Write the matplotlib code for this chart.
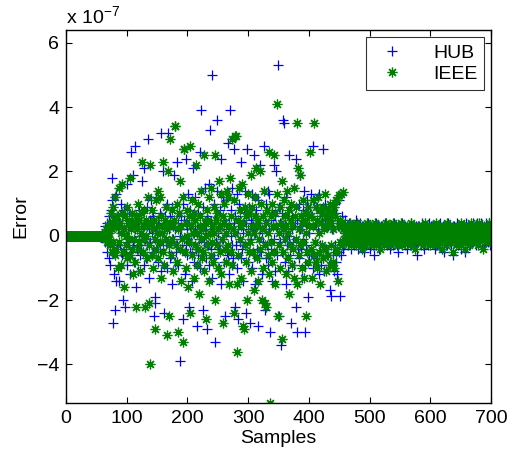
import numpy as np
import matplotlib
matplotlib.use("Agg")
import matplotlib.pyplot as plt

# ---------------- data (units of 1e-7) ----------------
scale = 1e-7

# samples 1..62 : both errors are zero
lead_hub = [0, 0, 0, 0, 0, 0, 0, 0, 0, 0, 0, 0, 0, 0, 0, 0, 0, 0, 0, 0,
            0, 0, 0, 0, 0, 0, 0, 0, 0, 0, 0, 0, 0, 0, 0, 0, 0, 0, 0, 0,
            0, 0, 0, 0, 0, 0, 0, 0, 0, 0, 0, 0, 0, 0, 0, 0, 0, 0, 0, 0,
            0, 0]
lead_ieee = [0, 0, 0, 0, 0, 0, 0, 0, 0, 0, 0, 0, 0, 0, 0, 0, 0, 0, 0, 0,
             0, 0, 0, 0, 0, 0, 0, 0, 0, 0, 0, 0, 0, 0, 0, 0, 0, 0, 0, 0,
             0, 0, 0, 0, 0, 0, 0, 0, 0, 0, 0, 0, 0, 0, 0, 0, 0, 0, 0, 0,
             0, 0]

# samples 63..462 : large scatter region
mid_hub = [
    0.1, -0.2, 0.3, -0.1, 0.4, -0.5, 0.2, 0.6, -0.7, 0.3,
    -0.9, 0.8, 1.1, 1.8, -2.7, 0.5, -1.2, 0.4, -2.3, -1.4,
    1.3, -0.3, 0.2, 0.6, -1.4, 0.4, -0.3, 1.0, -0.5, 0.2,
    -0.6, -2.0, 0.8, 0.1, -2.2, 0.5, -0.4, 1.6, -0.9, 0.3,
    -0.2, 0.7, -1.2, 0.3, 2.6, -0.5, 0.4, -0.3, 1.9, -0.8,
    0.2, 2.8, -1.6, 0.6, -0.4, 0.3, -1.1, 0.8, 0.0, -0.6,
    0.5, -0.3, 1.7, -0.5, 0.2, -0.9, 2.1, -0.1, 0.4, -0.7,
    0.9, -0.3, 3.0, 0.2, -1.3, 0.5, -0.2, 1.1, -0.6, 0.1,
    -0.5, 0.6, -2.5, -2.1, -1.9, 0.3, 1.2, -0.2, 0.5, -0.8,
    0.3, -0.4, 0.7, 3.2, -1.1, 0.1, 2.0, -0.3, 0.4, -2.4,
    0.6, -0.2, 0.3, -1.0, 1.0, 3.2, -0.5, 0.2, -0.7, 0.6,
    -0.2, 0.9, -1.5, 0.3, -0.1, 1.9, -0.8, 0.2, -0.5, 2.3,
    -0.3, 0.4, -0.9, 0.7, 0.0, -3.9, 0.2, 0.6, -0.4, -2.6,
    1.0, -0.1, 0.5, -1.2, 2.4, -0.3, 0.2, -0.6, 1.3, -2.2,
    0.4, -0.5, 0.8, -0.2, 0.6, -1.4, 2.1, 0.1, -0.8, 0.3,
    1.2, -0.4, -2.8, 0.2, -0.6, 0.7, -0.1, 2.6, -1.0, 3.9,
    0.1, -0.5, 0.9, -2.3, 0.4, -0.2, 1.5, -0.7, 0.2, -2.9,
    0.6, -0.3, 1.6, -0.9, 3.3, 0.4, -0.4, 5.0, -1.3, 0.2,
    1.0, -0.7, -3.3, 0.5, -0.2, 1.4, 3.6, -0.5, 0.1, -1.0,
    0.8, -0.4, 2.4, -1.5, 0.3, -0.1, 1.2, -0.8, 0.5, -2.5,
    0.2, 1.1, -0.5, 2.9, -0.6, 0.4, -1.2, 3.9, 0.0, 0.8,
    -0.3, 1.5, -0.7, 2.7, 0.4, -2.2, 0.6, -0.3, 1.3, -1.0,
    0.2, -2.6, 1.0, -0.2, 0.5, -0.7, 2.3, -0.4, 0.1, -1.4,
    0.7, -0.3, 1.4, -2.4, 0.4, 2.7, -0.8, 0.2, -0.5, 0.9,
    -2.7, 0.5, -0.1, 1.3, -1.0, 0.3, 2.5, -0.6, 0.1, -1.5,
    0.8, -0.4, 0.4, -2.8, 1.1, -0.7, 0.2, 2.2, -0.5, 0.1,
    -1.2, 0.6, -0.2, 2.8, -2.3, 0.4, -0.7, 1.0, -0.3, 1.4,
    -0.9, 0.2, 1.3, -3.0, 0.5, -0.4, 0.8, -1.4, 0.3, -0.1,
    2.2, -1.1, 0.6, 2.0, -0.6, 0.2, 5.3, -2.5, 0.9, -0.2,
    0.4, -3.4, 0.7, -0.5, 3.6, 0.1, 3.5, -0.8, 0.4, -1.5,
    1.2, -0.3, 0.6, -1.1, 2.5, 0.0, -0.6, 0.9, -2.7, 0.2,
    0.6, -0.2, 1.5, -0.9, 0.4, -2.2, 2.4, -3.0, 0.5, -0.4,
    1.0, -0.7, 0.2, 1.9, -0.4, 0.3, -1.3, 0.8, -0.1, 1.4,
    -0.9, -3.0, 0.4, -0.3, 1.1, -1.9, 0.6, 0.1, -0.6, 0.9,
    -0.5, 1.3, 0.6, -1.0, 2.8, -0.8, 1.1, -0.2, 0.4, -0.7,
    0.9, -0.6, 0.2, -1.2, 1.3, -0.3, 0.7, -0.9, 0.5, 0.6,
    -0.7, 2.7, -1.1, 0.5, 1.0, -0.4, 0.8, -0.6, 0.3, 0.7,
    -0.9, 0.6, -1.7, 0.4, -1.86, 0.2, -0.6, 0.9, -1.1, 1.0,
    -0.3, 0.7, -0.8, 0.5, -1.2, 0.3, -0.5, 1.1, -1.86, 0.4,
    -0.6, 0.3, 0.6, -0.4, 0.2, -0.3, 0.5, 0.1, -0.2, 0.3,
]
mid_ieee = [
    0.0, 0.1, -0.1, 0.2, 0.0, -0.2, 0.3, -0.1, 0.1, 0.4,
    -0.3, 0.7, 0.2, -0.5, 0.9, -0.2, 0.5, -0.6, 1.2, 0.3,
    -0.4, 0.6, -1.0, 0.3, 1.5, -0.2, 0.4, -0.9, 0.1, 0.7,
    1.6, -0.5, 0.2, -1.6, 0.6, 0.0, -0.3, 0.9, -0.7, 0.4,
    -0.1, 0.5, -0.6, 1.8, 0.2, -0.4, 0.7, -1.2, 0.3, -0.1,
    0.4, -0.8, -2.2, 0.6, 0.2, -0.4, 1.0, -0.2, 0.5, -1.1,
    0.1, 0.7, 2.3, -0.5, 0.3, -0.1, 0.8, -2.2, 0.0, 0.5,
    -0.7, 0.3, 1.2, -2.1, -0.3, 2.2, -4.0, 0.4, -0.6, 0.8,
    0.2, -1.0, 0.5, -0.1, -2.9, 1.1, -0.4, 0.1, 1.4, -0.7,
    0.3, -0.2, 1.2, 0.6, -1.3, 0.1, -0.5, 2.3, 0.3, -0.9,
    0.5, -0.1, 0.9, -3.1, 0.2, 2.0, -2.5, -0.3, 3.0, 0.4,
    -0.6, 0.8, -0.1, 0.3, -1.1, 0.5, 3.4, 3.4, -0.3, 1.0,
    -0.8, -3.0, 0.2, 0.7, -0.4, 1.7, -1.4, 0.3, -0.1, 1.2,
    -3.3, 2.7, 2.7, -0.5, 0.4, -1.0, 0.8, 0.0, -1.6, 0.6,
    -0.2, 2.8, -2.4, 0.3, 1.1, -0.6, 0.1, -1.3, 0.7, -0.3,
    0.5, 2.2, -0.9, 0.1, -0.4, 1.0, -1.8, 0.3, 0.6, -0.1,
    1.4, -0.7, 0.2, -0.5, 2.5, -1.1, 0.4, 0.0, -2.6, 0.8,
    -0.3, 0.5, -1.4, 1.2, 0.1, -0.6, 1.5, -0.2, 0.3, -0.8,
    0.9, 0.1, 2.5, -2.0, 0.5, -0.3, 0.7, -1.0, 0.2, 1.7,
    -0.5, 0.3, -1.2, 1.3, -0.1, 0.6, -2.7, 0.4, 1.0, -0.4,
    0.1, -0.8, 1.4, -0.3, 1.2, -1.5, 0.3, 1.8, -0.5, 0.6,
    3.0, -0.9, 0.2, 1.1, -2.4, 3.1, 0.1, 3.1, -1.5, -3.6,
    0.5, -0.6, 1.5, -0.1, 0.8, -1.3, 0.3, 1.6, -2.8, 0.4,
    -2.9, 0.9, -0.3, 0.6, -0.8, -2.0, 1.3, 0.1, -0.5, 0.7,
    -0.2, 1.9, -1.1, 0.3, 0.9, -0.5, 0.1, -1.7, 0.6, 1.2,
    2.1, -0.7, 0.3, -1.4, 0.5, -0.1, 2.0, -0.4, 1.0, -2.0,
    0.2, 0.6, -1.0, 1.4, -0.3, -2.1, -2.2, 0.4, 0.8, -0.6,
    0.1, 2.6, -1.2, -5.2, 0.6, -0.2, 1.0, -0.8, 0.3, 2.5,
    -0.5, 0.7, -1.5, 0.3, 1.3, 4.1, -2.5, 0.1, -0.3, 0.9,
    -1.0, 0.4, 1.7, -3.2, 0.2, -0.5, 1.1, -0.1, 0.6, -1.2,
    0.3, 1.4, -0.7, 0.1, -1.8, 0.8, -0.3, 0.5, 1.0, -0.9,
    0.3, -0.4, 1.5, -1.3, 0.6, -0.1, 0.9, -1.5, 3.5, 2.1,
    -0.6, 0.2, 1.9, -0.3, 0.6, -1.0, 0.4, 1.1, -0.2, -1.3,
    0.5, 0.7, -2.5, 0.1, -0.5, 0.9, -0.8, 0.3, 0.6, 2.6,
    -0.4, 0.6, -1.3, 0.3, 1.1, -0.6, 3.5, -0.2, 0.9, -0.8,
    0.5, -1.0, 1.2, 0.1, -0.5, 0.8, -1.5, 0.4, 0.7, -0.3,
    0.9, -0.7, 0.2, 1.3, -0.4, 0.6, -1.1, 0.3, 0.8, -0.6,
    0.5, 1.0, -0.9, 0.4, -0.3, 0.7, -0.8, 0.2, 0.9, -1.0,
    0.6, -0.5, 1.1, 1.1, -0.4, -1.4, 0.3, 1.27, -0.2, 0.5,
    1.3, -0.3, 0.4, 1.37, 0.2, -0.1, 0.3, 0.1, -0.2, 0.2,
]

# samples 463..700 : small residual errors
tail_hub = [
    0.2, -0.3, 0.1, 0.4, -0.1, 0.0, -0.4, 0.3, -0.2, 0.1,
    0.3, -0.1, -0.3, 0.2, 0.5, -0.2, 0.0, 0.3, -0.4, 0.1,
    -0.2, 0.2, 0.4, -0.3, 0.1, -0.1, 0.3, -0.5, 0.2, 0.0,
    0.1, -0.3, 0.3, -0.1, 0.2, 0.4, -0.2, 0.0, -0.4, 0.3,
    -0.1, 0.2, -0.3, 0.1, 0.3, -0.6, 0.2, -0.1, 0.4, 0.0,
    -0.2, 0.3, 0.1, -0.4, 0.2, -0.1, 0.3, 0.0, -0.3, 0.2,
    0.1, -0.2, 0.4, -0.1, 0.2, -0.3, 0.1, 0.3, -0.2, 0.0,
    0.2, -0.4, 0.1, 0.3, -0.1, 0.2, -0.3, 0.4, 0.0, -0.2,
    0.3, 0.1, -0.3, 0.2, -0.5, 0.0, 0.3, -0.1, 0.2, -0.2,
    0.1, 0.4, -0.2, 0.0, 0.2, -0.3, 0.3, -0.1, 0.1, -0.4,
    0.2, 0.0, -0.2, 0.3, 0.1, -0.3, 0.4, -0.1, 0.2, 0.0,
    -0.3, 0.2, 0.1, -0.2, 0.3, -0.6, 0.0, 0.2, -0.1, 0.3,
    0.1, -0.3, 0.2, 0.4, -0.1, 0.0, -0.4, 0.2, 0.1, -0.2,
    0.3, -0.1, 0.2, -0.3, 0.0, 0.4, -0.2, 0.1, -0.1, 0.3,
    0.0, -0.2, 0.3, 0.1, -0.4, 0.2, -0.1, 0.3, -0.3, 0.1,
    0.2, -0.1, -0.3, 0.4, 0.0, 0.2, -0.2, 0.1, 0.3, -0.5,
    0.1, 0.3, -0.1, 0.2, -0.3, 0.0, 0.4, -0.2, 0.1, -0.1,
    0.3, -0.3, 0.2, 0.0, -0.6, 0.1, 0.3, -0.2, 0.2, -0.1,
    0.0, 0.4, -0.3, 0.1, 0.2, -0.2, 0.3, -0.1, -0.4, 0.2,
    0.1, -0.1, 0.3, 0.0, -0.5, 0.2, 0.4, -0.2, 0.1, 0.3,
    -0.1, 0.2, 0.0, -0.3, 0.3, 0.1, -0.2, 0.4, 0.0, -0.1,
    0.3, 0.2, -0.3, 0.1, 0.4, -0.1, 0.0, 0.3, -0.2, 0.2,
    0.1, 0.4, -0.2, 0.3, 0.0, 0.2, -0.3, 0.1, 0.4, -0.1,
    0.2, 0.3, -0.2, 0.4, 0.1, -0.3, 0.3, 0.2,
]
tail_ieee = [
    0.1, 0.3, -0.2, 0.2, -0.1, 0.4, 0.0, -0.3, 0.2, 0.1,
    -0.2, 0.3, 0.0, 0.2, -0.3, 0.1, 0.4, -0.1, 0.2, -0.2,
    0.3, 0.0, -0.2, 0.1, 0.3, -0.4, 0.2, 0.1, -0.1, 0.3,
    -0.3, 0.2, 0.4, 0.0, -0.1, 0.2, -0.2, 0.3, 0.1, -0.3,
    0.2, 0.0, 0.3, -0.2, 0.1, -0.1, 0.4, -0.3, 0.2, 0.0,
    0.1, -0.2, 0.3, 0.2, -0.4, 0.1, 0.0, 0.3, -0.1, 0.2,
    -0.3, 0.1, 0.2, -0.1, 0.4, 0.0, -0.2, 0.3, 0.1, -0.1,
    0.2, 0.3, -0.3, 0.0, 0.1, -0.2, 0.4, 0.2, -0.1, 0.1,
    -0.2, 0.2, 0.0, 0.3, -0.3, 0.1, 0.2, -0.1, 0.4, 0.0,
    0.1, -0.3, 0.2, 0.0, 0.3, -0.1, -0.2, 0.2, 0.1, 0.3,
    -0.1, 0.0, 0.2, -0.3, 0.1, 0.4, -0.2, 0.1, 0.0, 0.2,
    0.3, -0.1, -0.4, 0.2, 0.0, 0.1, 0.3, -0.2, 0.2, -0.1,
    0.0, 0.2, -0.2, 0.3, 0.1, -0.3, 0.0, 0.2, 0.4, -0.1,
    0.1, -0.2, 0.3, 0.0, 0.2, -0.1, 0.1, -0.3, 0.2, 0.0,
    0.3, 0.1, -0.2, 0.2, -0.1, 0.0, 0.4, -0.3, 0.1, 0.2,
    -0.1, 0.3, 0.0, -0.2, 0.2, 0.1, -0.4, 0.2, 0.0, 0.3,
    0.1, -0.1, 0.2, -0.3, 0.4, 0.0, 0.1, -0.2, 0.3, 0.1,
    -0.2, 0.2, 0.0, 0.1, -0.5, 0.3, -0.1, 0.2, 0.0, -0.3,
    0.2, 0.1, -0.1, 0.3, 0.0, -0.2, 0.2, 0.4, -0.3, 0.1,
    0.0, 0.2, -0.1, 0.3, -0.4, 0.1, 0.2, -0.2, 0.0, 0.3,
    0.1, -0.3, 0.2, 0.0, 0.4, -0.1, 0.1, -0.2, 0.3, 0.2,
    -0.1, 0.0, 0.3, -0.2, 0.2, 0.1, -0.3, 0.4, 0.0, 0.2,
    0.1, 0.3, -0.1, 0.2, -0.4, 0.0, 0.3, 0.1, -0.2, 0.2,
    0.0, 0.3, -0.1, 0.2, 0.4, -0.2, 0.1, 0.3,
]

series_labels = ["HUB", "IEEE"]
x_ticks = [0, 100, 200, 300, 400, 500, 600, 700]
y_ticks = [-4, -2, 0, 2, 4, 6]

# ---------------- plotting ----------------
hub = np.array(lead_hub + mid_hub + tail_hub, dtype=float) * scale
ieee = np.array(lead_ieee + mid_ieee + tail_ieee, dtype=float) * scale
x_hub = np.arange(1, len(hub) + 1)
x_ieee = np.arange(1, len(ieee) + 1)

FS = 14
plt.rcParams['font.family'] = ['Liberation Sans', 'DejaVu Sans']
plt.rcParams['mathtext.fontset'] = 'custom'
plt.rcParams['mathtext.rm'] = 'Liberation Sans'
plt.rcParams['mathtext.it'] = 'Liberation Sans'

fig = plt.figure(figsize=(5.17, 4.53), dpi=100)
ax = fig.add_axes([66 / 517, 1 - 403 / 453, 425 / 517, 373 / 453])

ax.plot(x_hub, hub, linestyle='none', marker='+', color=(0, 0, 1),
        markersize=7, markeredgewidth=0.9, label=series_labels[0])
ax.plot(x_ieee, ieee, linestyle='none', marker=(8, 2, 0), color=(0, 0.5, 0),
        markersize=7, markeredgewidth=0.9, label=series_labels[1])

ax.set_xlim(0, 700)
ax.set_ylim(-5.2e-7, 6.4e-7)
ax.set_xticks(x_ticks)
ax.set_yticks([v * scale for v in y_ticks])
ax.set_yticklabels(['\u2212' + str(-v) if v < 0 else str(v) for v in y_ticks])
ax.tick_params(direction='in', top=True, right=True, length=4, width=0.8,
               labelsize=FS, pad=5, colors='black')
for sp in ax.spines.values():
    sp.set_linewidth(1.0)

ax.text(0, 1.008, r'x 10$^{-7}$', transform=ax.transAxes, fontsize=FS,
        ha='left', va='bottom')

ax.set_xlabel('Samples', fontsize=FS, labelpad=2)
ax.set_ylabel('Error', fontsize=FS, labelpad=5)

leg = ax.legend(loc='upper right', bbox_to_anchor=(0.984, 0.981),
                borderaxespad=0, fontsize=FS, frameon=True, fancybox=False,
                handlelength=2.0, handletextpad=1.1, borderpad=0.35,
                labelspacing=0.2, numpoints=1)
leg.get_frame().set_edgecolor('black')
leg.get_frame().set_linewidth(0.8)

fig.savefig('out.png', dpi=100)
